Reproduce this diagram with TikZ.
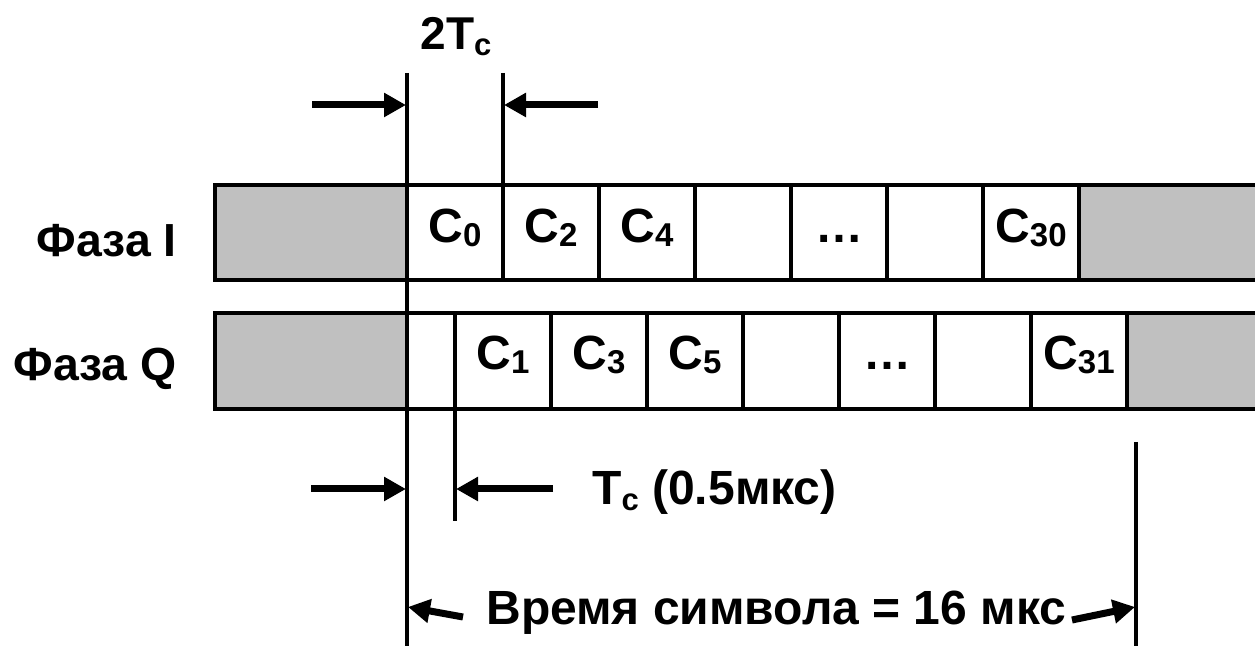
\documentclass[tikz,border=0pt]{standalone}
\usepackage{fontspec}
\setmainfont{Liberation Sans}
\usetikzlibrary{arrows.meta}
\definecolor{greyfill}{HTML}{C0C0C0}
\newcommand\csub[1]{\raisebox{-2pt}{\fontsize{16.5}{18}\selectfont #1}}
\newcommand\tsub[1]{\raisebox{-3pt}{\fontsize{15.5}{17}\selectfont #1}}
\begin{document}
\begin{tikzpicture}[x=0.5pt,y=-0.5pt,
  box/.style={line width=2.25pt},
  vline/.style={line width=2pt},
  dimarrow/.style={line width=3.5pt,-{Triangle[length=11pt,width=11.5pt]}},
  lab/.style={font=\fontsize{24}{28}\selectfont\bfseries,inner sep=0pt,anchor=base west},
  rowlab/.style={font=\fontsize{23.2}{27}\selectfont\bfseries,inner sep=0pt,anchor=base east},
  cell/.style={font=\fontsize{24}{28}\selectfont\bfseries,inner sep=0pt,anchor=base}]
\useasboundingbox (0,0) rectangle (1255,646);
% ---- row I ----
\fill[greyfill] (215,185) rectangle (407,280);
\fill[greyfill] (1079,185) rectangle (1262,280);
\draw[box] (1262,185) -- (215,185) -- (215,280) -- (1262,280);
\foreach \x in {407,503,599,695,791,887,983,1079} \draw[box] (\x,185) -- (\x,280);
% ---- row Q ----
\fill[greyfill] (215,313) rectangle (407,409);
\fill[greyfill] (1127,313) rectangle (1262,409);
\draw[box] (1262,313) -- (215,313) -- (215,409) -- (1262,409);
\foreach \x in {407,455,551,647,743,839,935,1031,1127} \draw[box] (\x,313) -- (\x,409);
% ---- cell labels ----
\node[cell] (c0) at (455,243) {C\csub{0}};
\node[cell] (c2) at (551,243) {C\csub{2}};
\node[cell] (c4) at (647,243) {C\csub{4}};
\node[cell] (dotsI) at (839,243) {\ldots};
\node[cell] (c30) at (1031,243) {C\csub{30}};
\node[cell] (c1) at (503,370) {C\csub{1}};
\node[cell] (c3) at (599,370) {C\csub{3}};
\node[cell] (c5) at (695,370) {C\csub{5}};
\node[cell] (dotsQ) at (887,370) {\ldots};
\node[cell] (c31) at (1079,370) {C\csub{31}};
% ---- row labels ----
\node[rowlab] (phI) at (177,257) {Фаза I};
\node[rowlab] (phQ) at (177,381) {Фаза Q};
% ---- guide lines ----
\coordinate (a1) at (407,73);  \coordinate (a2) at (407,646);
\coordinate (b1) at (503,73);  \coordinate (b2) at (503,185);
\coordinate (q1) at (455,409); \coordinate (q2) at (455,521);
\coordinate (d1) at (1136,442); \coordinate (d2) at (1136,646);
\draw[vline] (a1) -- (a2);
\draw[vline] (b1) -- (b2);
\draw[vline] (q1) -- (q2);
\draw[vline] (d1) -- (d2);
% ---- 2Tc ----
\node[font=\fontsize{23}{27}\selectfont\bfseries,inner sep=0pt,anchor=base] (twotc) at (456,50) {2T\tsub{c}};
\coordinate (t1s) at (312,105); \coordinate (t1e) at (406,105);
\coordinate (t2s) at (598,105); \coordinate (t2e) at (504,105);
\draw[dimarrow] (t1s) -- (t1e);
\draw[dimarrow] (t2s) -- (t2e);
% ---- Tc ----
\node[lab] (tc) at (592,505) {T\tsub{c} (0.5мкс)};
\coordinate (m1s) at (311,489); \coordinate (m1e) at (406,489);
\coordinate (m2s) at (553,489); \coordinate (m2e) at (456,489);
\draw[dimarrow] (m1s) -- (m1e);
\draw[dimarrow] (m2s) -- (m2e);
% ---- symbol time ----
\node[lab] (sym) at (486,625) {Время символа = 16 мкс};
\coordinate (s1s) at (463,617); \coordinate (s1e) at (408,607);
\coordinate (s2s) at (1072,620); \coordinate (s2e) at (1135,607);
\draw[dimarrow] (s1s) -- (s1e);
\draw[dimarrow] (s2s) -- (s2e);
\end{tikzpicture}
\end{document}
